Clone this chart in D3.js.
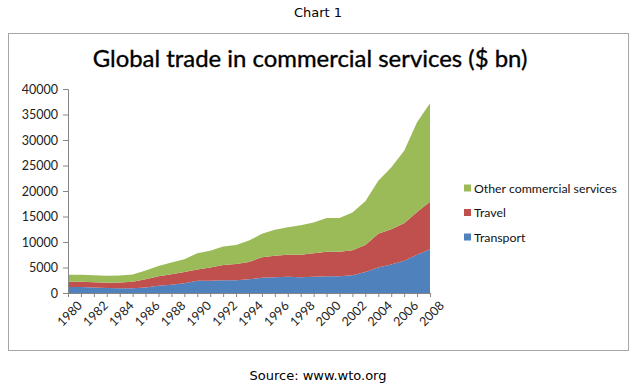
<!DOCTYPE html>
<html>
<head>
<meta charset="utf-8">
<script src="https://cdn.jsdelivr.net/npm/d3@7"></script>
<style>
  body { margin: 0; background: #fff; }
  svg { display: block; }
</style>
</head>
<body>
<div id="chart"></div>
<script>
const years = d3.range(1980, 2009);
const seriesNames = ["Transport", "Travel", "Other commercial services"];
const transport = [1200, 1200, 1100, 1000, 950, 950, 1100, 1400, 1600, 1900, 2400, 2400, 2500, 2500, 2700, 3000, 3100, 3200, 3100, 3200, 3300, 3300, 3500, 4100, 5000, 5600, 6300, 7500, 8600];
const travel = [1000, 1000, 1000, 1000, 1100, 1250, 1600, 1900, 2100, 2200, 2200, 2600, 3000, 3200, 3400, 4000, 4200, 4300, 4400, 4600, 4800, 4800, 4900, 5300, 6600, 6900, 7400, 8400, 9300];
const other = [1400, 1400, 1400, 1400, 1400, 1450, 1700, 2000, 2300, 2500, 3200, 3300, 3600, 3700, 4200, 4600, 5100, 5400, 5800, 6000, 6600, 6600, 7400, 8600, 10400, 12100, 14200, 17600, 19300];
const yTicks = [0, 5000, 10000, 15000, 20000, 25000, 30000, 35000, 40000];
const colors = ["#4f81bd", "#c0504d", "#9bbb59"];

const width = 638;
const height = 386;

const svg = d3.select("#chart")
    .append("svg")
    .attr("width", width)
    .attr("height", height);

// outer chart frame
svg.append("rect")
    .attr("x", 8.5).attr("y", 33.5)
    .attr("width", 620).attr("height", 317)
    .attr("fill", "#fff")
    .attr("stroke", "#a6a6a6");

svg.append("text")
    .attr("x", 318).attr("y", 17)
    .attr("text-anchor", "middle")
    .attr("font-family", "DejaVu Sans")
    .attr("font-size", 13)
    .text("Chart 1");

svg.append("text")
    .attr("x", 318).attr("y", 380)
    .attr("text-anchor", "middle")
    .attr("font-family", "DejaVu Sans")
    .attr("font-size", 13)
    .text("Source: www.wto.org");

const title = svg.append("text")
    .attr("x", 310).attr("y", 67)
    .attr("text-anchor", "middle")
    .attr("font-family", "Lato")
    .attr("font-size", 24)
    .attr("fill", "#000")
    .attr("stroke", "#000")
    .attr("stroke-width", 0.35)
    .text("Global trade in commercial services ($ bn)");
// fit title width to the reference
const tw = title.node().getComputedTextLength();
title.attr("font-size", 24 * 435 / tw);

const x = d3.scalePoint().domain(years).range([68, 430]);
const y = d3.scaleLinear().domain([0, 40000]).range([293, 89]);

const rows = years.map((yr, i) => ({
    year: yr,
    Transport: transport[i],
    Travel: travel[i],
    "Other commercial services": other[i]
}));

const stack = d3.stack().keys(seriesNames);
const layers = stack(rows);

const area = d3.area()
    .x(d => x(d.data.year))
    .y0(d => y(d[0]))
    .y1(d => y(d[1]));

svg.selectAll("path.layer")
    .data(layers)
    .enter()
    .append("path")
    .attr("class", "layer")
    .attr("d", area)
    .attr("fill", (d, i) => colors[i]);

// AXES
const yAxis = svg.append("g")
    .attr("transform", "translate(68,0)")
    .call(d3.axisLeft(y).tickValues(yTicks).tickSize(5).tickPadding(5).tickFormat(d3.format("d")));
yAxis.select(".domain").attr("stroke", "#868686");
yAxis.selectAll(".tick line").attr("stroke", "#868686");
yAxis.selectAll("text")
    .attr("font-family", "Lato")
    .attr("font-size", 12.5)
    .attr("fill", "#222");

const xAxis = svg.append("g")
    .attr("transform", "translate(0,293)")
    .call(d3.axisBottom(x).tickSize(4).tickSizeOuter(0)
        .tickFormat(d => d % 2 === 0 ? d : ""));
xAxis.select(".domain").attr("stroke", "#868686");
xAxis.selectAll(".tick line").attr("stroke", "#868686");
xAxis.selectAll("text")
    .attr("font-family", "Lato")
    .attr("font-size", 12.5)
    .attr("fill", "#222")
    .attr("text-anchor", "end")
    .attr("transform", "translate(5,4) rotate(-45)")
    .attr("dy", "0.75em")
    .attr("y", 4);

// LEGEND
const legendItems = seriesNames.slice().reverse();
const legend = svg.selectAll("g.legend")
    .data(legendItems)
    .enter()
    .append("g")
    .attr("class", "legend")
    .attr("transform", (d, i) => `translate(464,${188 + i * 24.5})`);

legend.append("rect")
    .attr("x", 0).attr("y", -3.5)
    .attr("width", 7).attr("height", 7)
    .attr("fill", d => colors[seriesNames.indexOf(d)]);

legend.append("text")
    .attr("x", 10).attr("y", 4.5)
    .attr("font-family", "Lato")
    .attr("font-size", 12.3)
    .attr("fill", "#111")
    .text(d => d);
</script>
</body>
</html>
